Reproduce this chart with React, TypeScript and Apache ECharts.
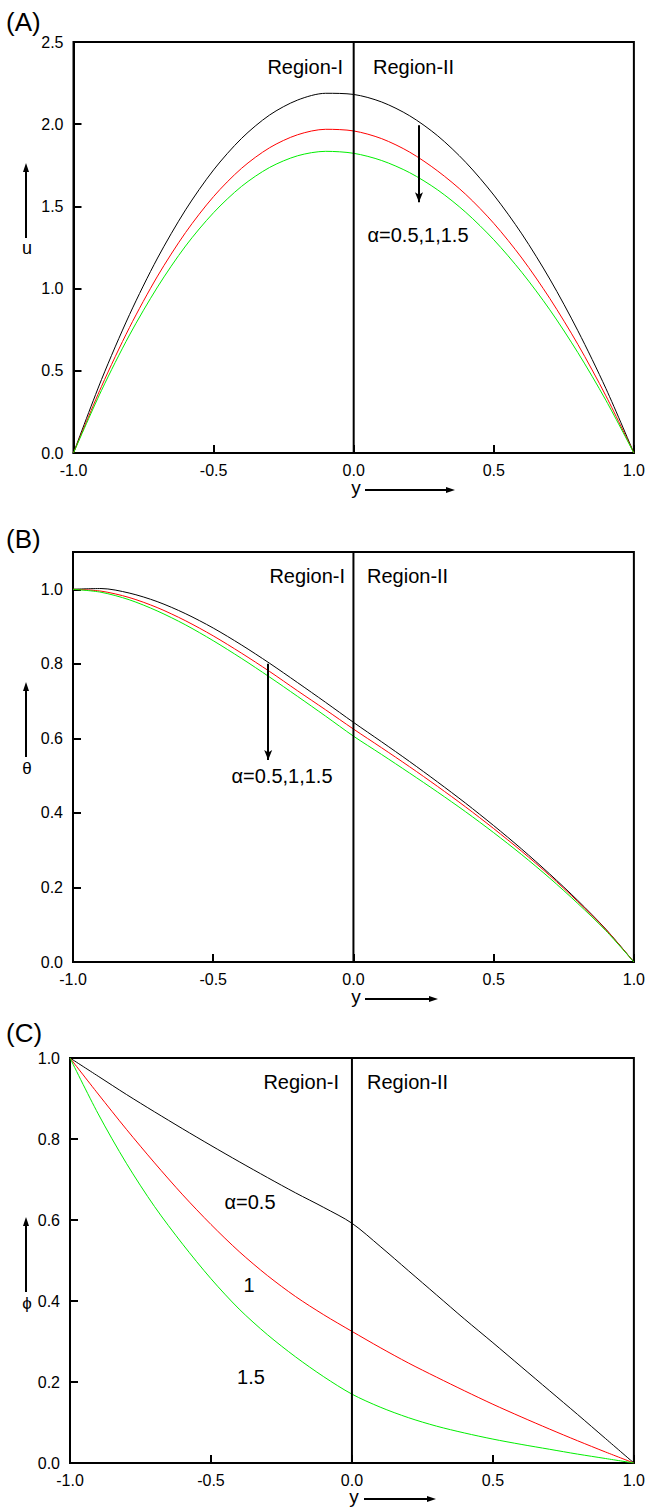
import React, { useEffect, useRef } from "react";
import * as echarts from "echarts";

// Transverse coordinate y across the two-region channel
const Y_POS = [-1.0, -0.9, -0.8, -0.7, -0.6, -0.5, -0.4, -0.3, -0.2, -0.1, 0.0, 0.1, 0.2, 0.3, 0.4, 0.5, 0.6, 0.7, 0.8, 0.9, 1.0];

// (A) velocity u for alpha = 0.5, 1, 1.5
const U_A05 = [0, 0.447, 0.842, 1.186, 1.479, 1.722, 1.914, 2.056, 2.147, 2.188, 2.181, 2.135, 2.051, 1.929, 1.768, 1.569, 1.333, 1.058, 0.744, 0.393, 0];
const U_A1 = [0, 0.405, 0.764, 1.076, 1.341, 1.56, 1.732, 1.857, 1.936, 1.969, 1.959, 1.912, 1.83, 1.715, 1.573, 1.397, 1.186, 0.94, 0.661, 0.348, 0];
const U_A15 = [0, 0.381, 0.718, 1.01, 1.259, 1.462, 1.622, 1.737, 1.808, 1.835, 1.823, 1.779, 1.705, 1.6, 1.464, 1.297, 1.099, 0.871, 0.611, 0.321, 0];

// (B) temperature theta
const T_A05 = [1.0, 1.002, 0.99, 0.967, 0.935, 0.896, 0.851, 0.802, 0.75, 0.697, 0.643, 0.591, 0.538, 0.483, 0.426, 0.366, 0.303, 0.236, 0.165, 0.088, 0];
const T_A1 = [1.0, 0.995, 0.978, 0.951, 0.916, 0.875, 0.829, 0.78, 0.728, 0.677, 0.625, 0.575, 0.524, 0.471, 0.416, 0.358, 0.297, 0.232, 0.162, 0.087, 0];
const T_A15 = [1.0, 0.992, 0.972, 0.942, 0.905, 0.862, 0.815, 0.765, 0.713, 0.66, 0.606, 0.557, 0.507, 0.456, 0.403, 0.347, 0.288, 0.225, 0.157, 0.084, 0];

// (C) concentration phi
const P_A05 = [1.0, 0.955, 0.91, 0.867, 0.825, 0.784, 0.744, 0.705, 0.667, 0.631, 0.592, 0.535, 0.475, 0.415, 0.355, 0.297, 0.238, 0.179, 0.12, 0.06, 0];
const P_A1 = [1.0, 0.911, 0.824, 0.741, 0.662, 0.589, 0.522, 0.463, 0.411, 0.366, 0.325, 0.285, 0.247, 0.212, 0.178, 0.145, 0.114, 0.084, 0.055, 0.027, 0];
const P_A15 = [1.0, 0.862, 0.74, 0.633, 0.54, 0.455, 0.38, 0.317, 0.262, 0.213, 0.17, 0.138, 0.112, 0.091, 0.074, 0.059, 0.046, 0.034, 0.022, 0.011, 0];

// Axis ranges per panel: [min, max, interval]
const X_RANGE = [-1, 1, 0.5];
const U_RANGE = [0, 2.5, 0.5];
const T_RANGE = [0, 1.1, 0.2];
const P_RANGE = [0, 1, 0.2];

// Arrows marking the direction of increasing alpha (data coordinates)
const U_ARROW = [[0.233, 1.993], [0.233, 1.525]];
const T_ARROW = [[-0.304, 0.8], [-0.304, 0.542]];

const FONT = "'Liberation Sans', Arial, Helvetica, sans-serif";
const COLORS = ["#000000", "#ff0000", "#00ee00"];

const pairs = (ys: number[]) => Y_POS.map((x, i) => [x, ys[i]]);

export default function App() {
  const ref = useRef<HTMLDivElement>(null);

  useEffect(() => {
    if (!ref.current) return;
    const chart = echarts.init(ref.current, null, { renderer: "svg" });

    const grids = [
      { left: 73.5, top: 42, width: 562, height: 411 },
      { left: 73, top: 552, width: 563, height: 410 },
      { left: 70, top: 1058, width: 566, height: 405 },
    ];
    const yRanges = [U_RANGE, T_RANGE, P_RANGE];
    const panels = [
      [U_A05, U_A1, U_A15],
      [T_A05, T_A1, T_A15],
      [P_A05, P_A1, P_A15],
    ];

    const axisCommon = {
      type: "value" as const,
      axisLine: { show: true, onZero: false, lineStyle: { color: "#000", width: 2 } },
      axisTick: { show: true, inside: true, length: 8, lineStyle: { color: "#000", width: 2 } },
      splitLine: { show: false },
    };

    const xAxis = grids.map((_, i) => ({
      ...axisCommon,
      gridIndex: i,
      min: X_RANGE[0],
      max: X_RANGE[1],
      interval: X_RANGE[2],
      axisLabel: {
        color: "#000",
        fontSize: 16,
        fontFamily: FONT,
        margin: 9,
        formatter: (v: number) => v.toFixed(1),
      },
    }));

    const yAxis = grids.map((_, i) => ({
      ...axisCommon,
      gridIndex: i,
      min: yRanges[i][0],
      max: yRanges[i][1],
      interval: yRanges[i][2],
      axisLabel: {
        color: "#000",
        fontSize: 16,
        fontFamily: FONT,
        margin: 10,
        formatter: (v: number) => {
          const step = yRanges[i][2];
          if (Math.abs(v / step - Math.round(v / step)) > 1e-6) return "";
          return (Math.round(v * 10) / 10).toFixed(1);
        },
      },
    }));

    const series: any[] = [];
    panels.forEach((curves, gi) => {
      curves.forEach((vals, ci) => {
        series.push({
          type: "line",
          xAxisIndex: gi,
          yAxisIndex: gi,
          data: pairs(vals),
          smooth: 0.3,
          symbol: "none",
          lineStyle: { color: COLORS[ci], width: 1 },
          z: 3,
        });
      });
      // interface between Region-I and Region-II
      series.push({
        type: "line",
        xAxisIndex: gi,
        yAxisIndex: gi,
        data: [[0, yRanges[gi][0]], [0, yRanges[gi][1]]],
        symbol: "none",
        lineStyle: { color: "#000", width: 2 },
        z: 4,
      });
    });

    const arrowMark = (gi: number, pts: number[][]) => ({
      type: "line",
      xAxisIndex: gi,
      yAxisIndex: gi,
      data: [],
      markLine: {
        silent: true,
        symbol: ["none", "arrow"],
        symbolSize: [6, 10],
        label: { show: false },
        lineStyle: { color: "#000", width: 2, type: "solid" },
        data: [[{ coord: pts[0] }, { coord: pts[1] }]],
      },
    });
    series.push(arrowMark(0, U_ARROW));
    series.push(arrowMark(1, T_ARROW));

    const txt = (x: number, y: number, text: string, size: number, align = "center") => ({
      type: "text",
      x,
      y,
      style: {
        text,
        fill: "#000",
        font: `${size}px ${FONT}`,
        textAlign: align,
        textVerticalAlign: "middle",
      },
    });
    const vArrow = (x: number, y0: number, y1: number) => ({
      type: "group",
      children: [
        { type: "line", shape: { x1: x, y1: y0, x2: x, y2: y1 + 6 }, style: { stroke: "#000", lineWidth: 2 } },
        { type: "polygon", shape: { points: [[x, y1], [x - 3, y1 + 9], [x + 3, y1 + 9]] }, style: { fill: "#000" } },
      ],
    });
    const hArrow = (y: number, x0: number, x1: number) => ({
      type: "group",
      children: [
        { type: "line", shape: { x1: x0, y1: y, x2: x1 - 6, y2: y }, style: { stroke: "#000", lineWidth: 2 } },
        { type: "polygon", shape: { points: [[x1, y], [x1 - 9, y - 3], [x1 - 9, y + 3]] }, style: { fill: "#000" } },
      ],
    });

    const graphic = [
      txt(6, 22, "(A)", 26, "left"),
      txt(6, 539, "(B)", 26, "left"),
      txt(6, 1033, "(C)", 26, "left"),

      txt(343, 67, "Region-I", 20, "right"),
      txt(373, 67, "Region-II", 20, "left"),
      txt(345, 576, "Region-I", 20, "right"),
      txt(367, 576, "Region-II", 20, "left"),
      txt(339, 1082, "Region-I", 20, "right"),
      txt(367, 1082, "Region-II", 20, "left"),

      txt(418, 235, "α=0.5,1,1.5", 20),
      txt(282, 776, "α=0.5,1,1.5", 20),
      txt(250, 1202, "α=0.5", 20),
      txt(249, 1285, "1", 20),
      txt(251, 1377, "1.5", 20),

      txt(27, 248, "u", 18),
      vArrow(26, 238, 163),
      txt(27, 768, "θ", 17),
      vArrow(26, 757, 682),
      txt(27, 1303, "ϕ", 17),
      vArrow(26, 1292, 1217),

      txt(356, 487, "y", 19),
      hArrow(490, 365, 455),
      txt(356, 996, "y", 19),
      hArrow(999, 365, 438),
      txt(354, 1496, "y", 19),
      hArrow(1499, 364, 436),
    ];

    chart.setOption({
      animation: false,
      backgroundColor: "#fff",
      textStyle: { fontFamily: FONT },
      grid: grids.map((g) => ({ ...g, show: true, borderColor: "#000", borderWidth: 2, backgroundColor: "transparent" })),
      xAxis,
      yAxis,
      series,
      graphic,
    });

    return () => chart.dispose();
  }, []);

  return <div ref={ref} style={{ position: "absolute", left: 0, top: 0, width: 648, height: 1512 }} />;
}
